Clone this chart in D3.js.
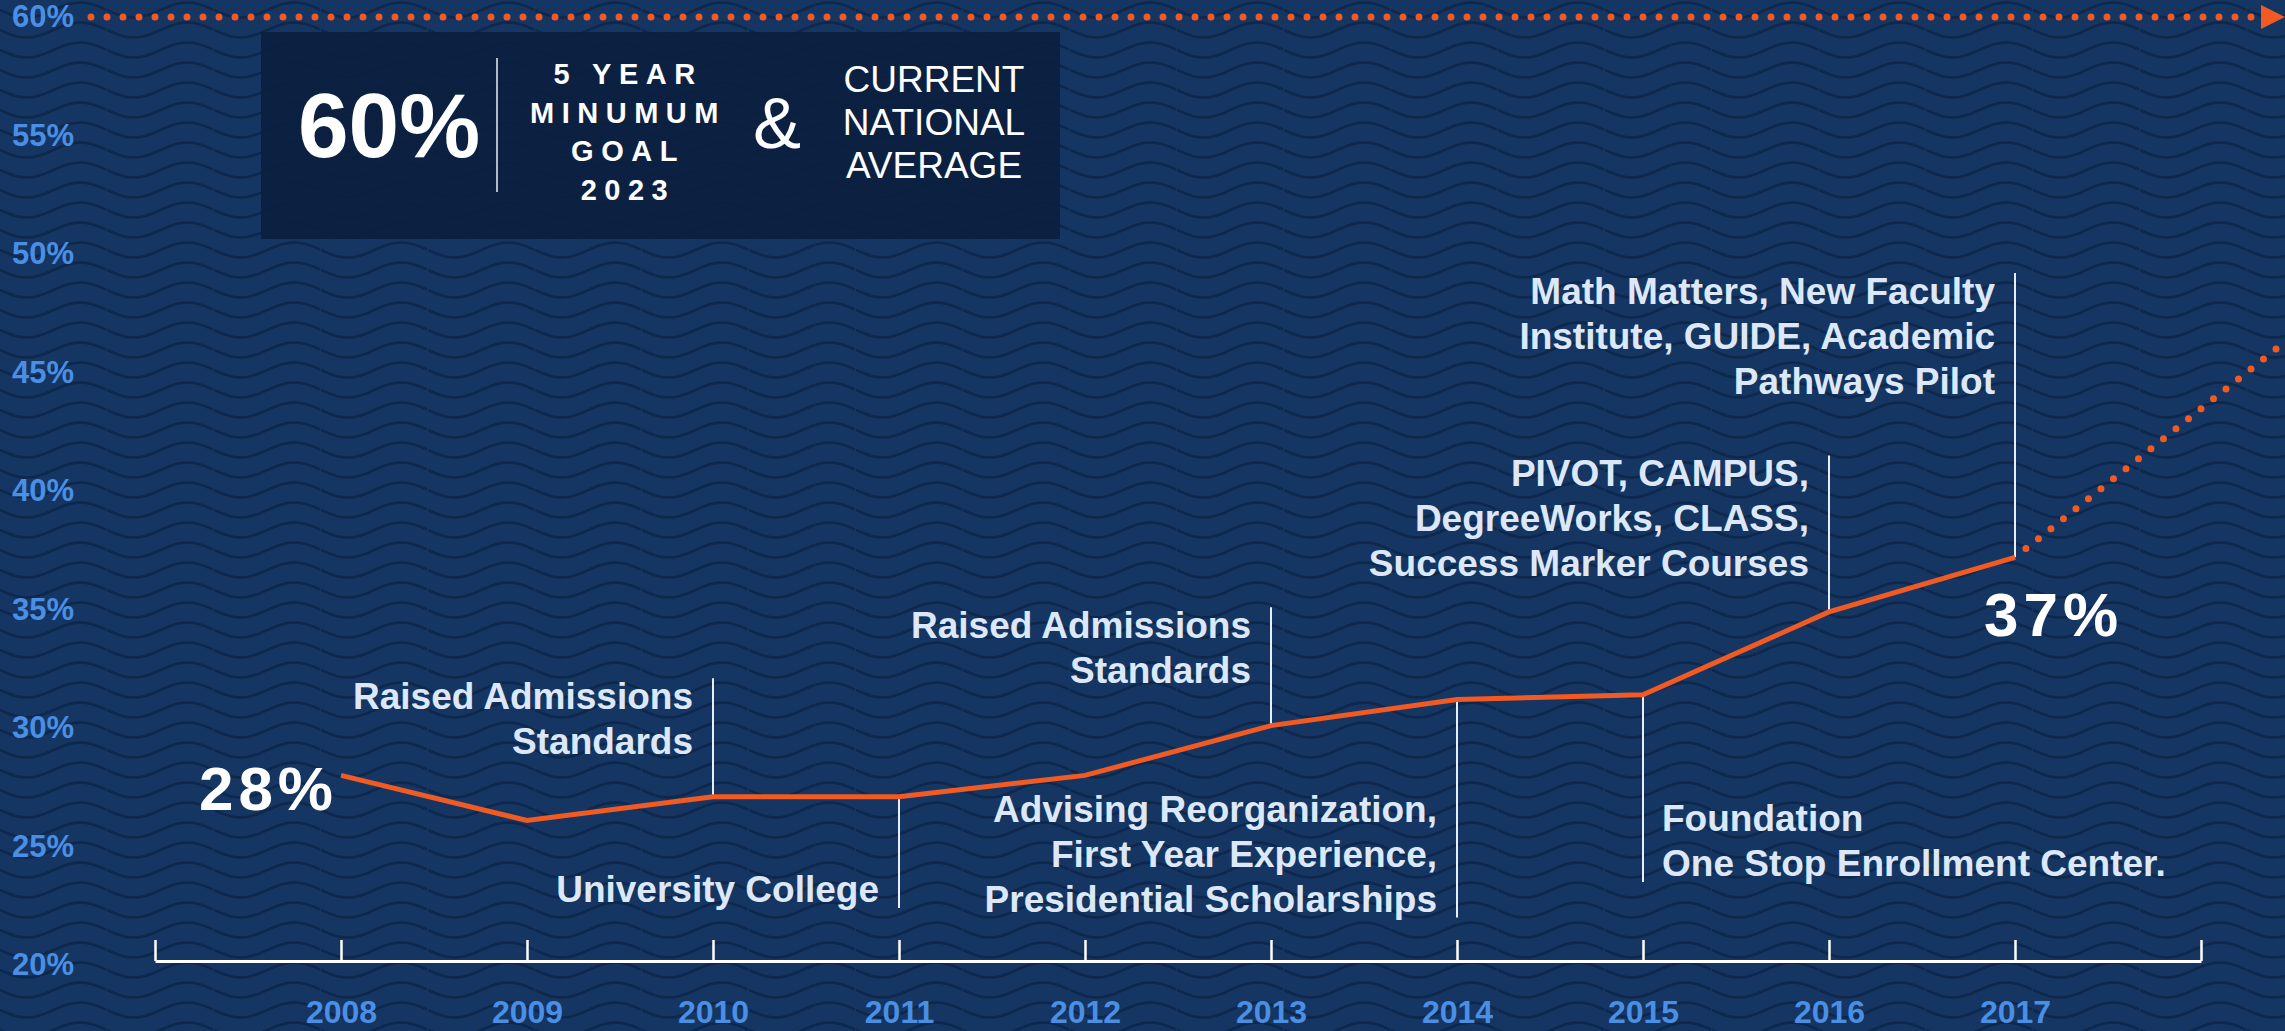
<!DOCTYPE html>
<html>
<head>
<meta charset="utf-8">
<script src="https://cdn.jsdelivr.net/npm/d3@7"></script>
<style>
  body { margin: 0; background: #143562; overflow: hidden; }
  svg { display: block; font-family: "Liberation Sans", Arial, sans-serif; }
  .yLabel, .xLabel { fill: #4a8fe3; font-weight: bold; }
  .note { fill: #dce8f8; font-weight: bold; font-size: 37px; }
  .noteLine { stroke: #e8eef8; stroke-width: 2; }
</style>
</head>
<body>
<div class="chart"></div>
<script>
// graduation rate by year
var years = [2008, 2009, 2010, 2011, 2012, 2013, 2014, 2015, 2016, 2017];
var rates = [28.0, 26.1, 27.1, 27.1, 28.0, 30.1, 31.2, 31.4, 34.9, 37.2];
var yTicks = [20, 25, 30, 35, 40, 45, 50, 55, 60];
var axisYears = [2007, 2008, 2009, 2010, 2011, 2012, 2013, 2014, 2015, 2016, 2017, 2018];
var goal = 60;
var projYears = [2017, 2018.5];
var projRates = [37.2, 46.6];

// annotations: year, where the leader line ends (in %), and text lines
var noteYears = [2010, 2011, 2013, 2014, 2015, 2016, 2017];
var noteTips = [32.1, 22.4, 35.1, 22.0, 23.5, 41.5, 49.2];
var noteAnchors = ["end", "end", "end", "end", "start", "end", "end"];
var noteTexts = [
  ["Raised Admissions", "Standards"],
  ["University College"],
  ["Raised Admissions", "Standards"],
  ["Advising Reorganization,", "First Year Experience,", "Presidential Scholarships"],
  ["Foundation", "One Stop Enrollment Center."],
  ["PIVOT, CAMPUS,", "DegreeWorks, CLASS,", "Success Marker Courses"],
  ["Math Matters, New Faculty", "Institute, GUIDE, Academic", "Pathways Pilot"]
];

var svgWidth = 2285;
var svgHeight = 1031;
var orange = "#f15a22";

var svg = d3.select(".chart")
    .append("svg")
    .attr("width", svgWidth)
    .attr("height", svgHeight);

// wavy background
var defs = svg.append("defs");
var pat = defs.append("pattern")
    .attr("id", "waves")
    .attr("patternUnits", "userSpaceOnUse")
    .attr("width", 107)
    .attr("height", 20);
var wavePts = d3.range(0, 108, 2).map(function(x) {
  return [x, 10 + 7.5 * Math.sin(x / 107 * 2 * Math.PI)];
});
pat.append("rect").attr("width", 107).attr("height", 20).attr("fill", "#153663");
pat.append("path")
    .attr("d", d3.line().curve(d3.curveBasis)(wavePts))
    .attr("fill", "none")
    .attr("stroke", "#0e284d")
    .attr("stroke-width", 2.8);

svg.append("rect")
    .attr("width", svgWidth)
    .attr("height", svgHeight)
    .attr("fill", "url(#waves)");

// scales
var xScale = d3.scaleLinear().domain([2007, 2018]).range([155, 2201]);
var yScale = d3.scaleLinear().domain([20, 60]).range([965, 17]);

// y labels
var leftAxis = d3.axisLeft(yScale)
    .tickValues(yTicks)
    .tickSize(0)
    .tickFormat(function(d) { return d + "%"; });
var yAxisG = svg.append("g").call(leftAxis);
yAxisG.select(".domain").remove();
yAxisG.selectAll("text")
    .attr("class", "yLabel")
    .attr("x", 12)
    .attr("text-anchor", "start")
    .attr("font-size", 31)
    .attr("font-family", null);

// x axis
var bottomAxis = d3.axisBottom(xScale)
    .tickValues(axisYears)
    .tickSizeInner(-21)
    .tickSizeOuter(0)
    .tickFormat(function(d) { return years.indexOf(d) >= 0 ? d : ""; });
var xAxisG = svg.append("g")
    .attr("transform", "translate(0, 961)")
    .call(bottomAxis);
xAxisG.select(".domain").attr("stroke", "#ffffff").attr("stroke-width", 3);
xAxisG.selectAll("line").attr("stroke", "#ffffff").attr("stroke-width", 2.5);
xAxisG.selectAll("text")
    .attr("class", "xLabel")
    .attr("y", 62)
    .attr("dy", null)
    .attr("font-size", 32)
    .attr("font-family", null);

// goal line at 60%
svg.append("line")
    .attr("x1", 91)
    .attr("x2", 2262)
    .attr("y1", yScale(goal))
    .attr("y2", yScale(goal))
    .attr("stroke", orange)
    .attr("stroke-width", 7)
    .attr("stroke-linecap", "round")
    .attr("stroke-dasharray", "0 16");
svg.append("path")
    .attr("d", "M2261," + (yScale(goal) - 12) + "L2285," + yScale(goal) + "L2261," + (yScale(goal) + 12) + "Z")
    .attr("fill", orange);

// goal box
var box = svg.append("g");
box.append("rect")
    .attr("x", 261).attr("y", 32)
    .attr("width", 799).attr("height", 207)
    .attr("fill", "#0b1d3c")
    .attr("opacity", 0.85);
box.append("text")
    .attr("x", 298).attr("y", 157)
    .attr("fill", "#fff")
    .attr("font-weight", "bold")
    .attr("font-size", 91)
    .text("60%");
box.append("line")
    .attr("x1", 497).attr("x2", 497)
    .attr("y1", 58).attr("y2", 192)
    .attr("stroke", "#e8eef8").attr("stroke-width", 1.5);
box.selectAll("text.goal")
    .data(["5 YEAR", "MINUMUM", "GOAL", "2023"])
    .enter()
    .append("text")
    .attr("class", "goal")
    .attr("x", 628)
    .attr("y", function(d, i) { return 84 + i * 38.5; })
    .attr("text-anchor", "middle")
    .attr("fill", "#fff")
    .attr("font-weight", "bold")
    .attr("font-size", 29)
    .attr("letter-spacing", 7.5)
    .text(function(d) { return d; });
box.append("text")
    .attr("x", 777).attr("y", 148)
    .attr("text-anchor", "middle")
    .attr("fill", "#fff")
    .attr("font-size", 72)
    .text("&");
box.selectAll("text.avg")
    .data(["CURRENT", "NATIONAL", "AVERAGE"])
    .enter()
    .append("text")
    .attr("class", "avg")
    .attr("x", 934)
    .attr("y", function(d, i) { return 92 + i * 43; })
    .attr("text-anchor", "middle")
    .attr("fill", "#fff")
    .attr("font-size", 37)
    .text(function(d) { return d; });

// annotation leaders and text
noteYears.forEach(function(yr, i) {
  var idx = years.indexOf(yr);
  var x = xScale(yr);
  var yPoint = yScale(rates[idx]);
  var yTip = yScale(noteTips[i]);
  var lines = noteTexts[i];
  var above = noteTips[i] > rates[idx];

  svg.append("line")
      .attr("class", "noteLine")
      .attr("x1", x).attr("x2", x)
      .attr("y1", yTip).attr("y2", yPoint);

  var first = above ? yTip + 31 : yTip - 6 - 45 * (lines.length - 1);
  var tx = noteAnchors[i] === "end" ? x - 20 : x + 19;
  svg.selectAll(null)
      .data(lines)
      .enter()
      .append("text")
      .attr("class", "note")
      .attr("x", tx)
      .attr("y", function(d, j) { return first + j * 45; })
      .attr("text-anchor", noteAnchors[i])
      .text(function(d) { return d; });
});

// projection (dotted)
var projData = projYears.map(function(d, i) { return [d, projRates[i]]; });
svg.append("path")
    .datum(projData)
    .attr("d", d3.line().x(d => xScale(d[0])).y(d => yScale(d[1])))
    .attr("fill", "none")
    .attr("stroke", orange)
    .attr("stroke-width", 7)
    .attr("stroke-linecap", "round")
    .attr("stroke-dasharray", "0 16")
    .attr("stroke-dashoffset", -14);

// rate line
var lineData = years.map(function(d, i) { return [d, rates[i]]; });
svg.append("path")
    .datum(lineData)
    .attr("d", d3.line().x(d => xScale(d[0])).y(d => yScale(d[1])))
    .attr("fill", "none")
    .attr("stroke", orange)
    .attr("stroke-width", 5);

// first and last values
svg.append("text")
    .attr("x", xScale(years[0]) - 3)
    .attr("y", yScale(rates[0]) + 35)
    .attr("text-anchor", "end")
    .attr("fill", "#fff")
    .attr("font-weight", "bold")
    .attr("font-size", 62)
    .attr("letter-spacing", 5)
    .text(Math.round(rates[0]) + "%");
svg.append("text")
    .attr("x", xScale(years[years.length - 1]) - 31)
    .attr("y", yScale(rates[rates.length - 1]) + 79)
    .attr("fill", "#fff")
    .attr("font-weight", "bold")
    .attr("font-size", 62)
    .attr("letter-spacing", 5)
    .text(Math.round(rates[rates.length - 1]) + "%");
</script>
</body>
</html>
